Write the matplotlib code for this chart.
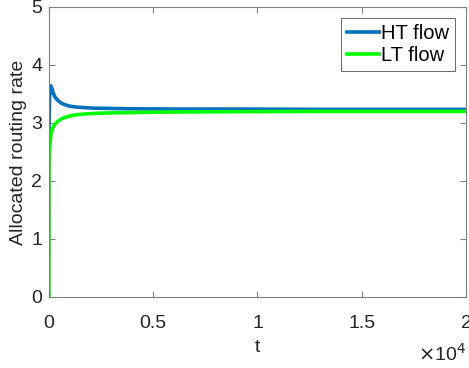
import numpy as np
import matplotlib.pyplot as plt

plt.rcParams['font.family'] = ['Liberation Sans', 'DejaVu Sans']

# rate samples (t, value) for each flow
t_ht = [0, 30, 80, 120, 200, 300, 450, 600, 800, 1000, 1300, 1700, 2200, 3000, 4000, 6000, 9000, 13000, 20000]
rate_ht = [2.9, 3.45, 3.64, 3.62, 3.52, 3.44, 3.38, 3.34, 3.31, 3.29, 3.275, 3.265, 3.255, 3.25, 3.245, 3.24, 3.24, 3.235, 3.235]

t_lt = [0, 10, 30, 60, 100, 150, 250, 400, 600, 800, 1000, 1300, 1700, 2200, 3000, 4000, 6000, 9000, 13000, 20000]
rate_lt = [0.0, 2.3, 2.55, 2.7, 2.8, 2.88, 2.96, 3.02, 3.07, 3.1, 3.12, 3.14, 3.155, 3.165, 3.175, 3.18, 3.19, 3.195, 3.2, 3.2]

fig = plt.figure(figsize=(4.69, 3.68), dpi=100)
ax = fig.add_axes([0.1045, 0.193, 0.889, 0.788])

ax.plot(t_ht, rate_ht, color='#0072BD', lw=2.6, label='HT flow')
ax.plot(t_lt, rate_lt, color='#00FF00', lw=2.6, label='LT flow')

ax.set_xlim(0, 20000)
ax.set_ylim(0, 5)
ax.set_xticks([0, 5000, 10000, 15000, 20000])
ax.set_xticklabels(['0', '0.5', '1', '1.5', '2'])
ax.set_yticks([0, 1, 2, 3, 4, 5])

for s in ax.spines.values():
    s.set_color('#808080')
    s.set_linewidth(0.8)
ax.tick_params(direction='in', top=True, right=True, length=4, width=0.8,
               color='#808080', labelsize=14, labelcolor='#262626')
ax.tick_params(axis='x', pad=13)
ax.tick_params(axis='y', pad=5)

ax.set_xlabel('t', fontsize=14, color='#262626', labelpad=5)
ax.set_ylabel('Allocated routing rate', fontsize=14, color='#262626', labelpad=3)
fig.text(0.993, 0.008, r'$\times$10$^{4}$', ha='right', va='bottom', fontsize=14, color='#262626')

leg = ax.legend(loc='upper right', fontsize=14.5, handlelength=1.6, handletextpad=0.1,
                borderpad=0.3, labelspacing=0.15, fancybox=False, borderaxespad=0.55)
leg.get_frame().set_edgecolor('#262626')
leg.get_frame().set_linewidth(0.6)

fig.savefig('out.png', dpi=100)
